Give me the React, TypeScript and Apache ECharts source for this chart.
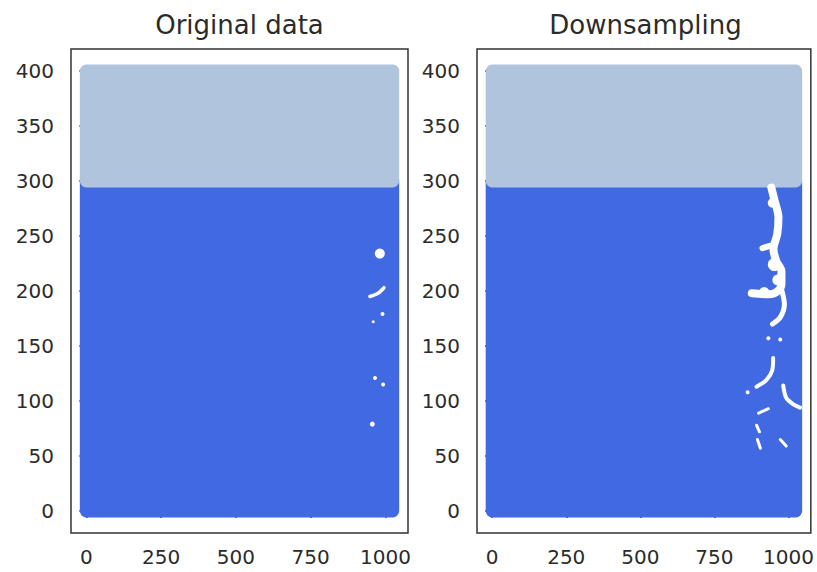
import React, { useEffect, useRef } from "react";
import * as echarts from "echarts";

// ---- data ----
const panelTitles = ["Original data", "Downsampling"];
const xTicks = [0, 250, 500, 750, 1000];
const yTicks = [0, 50, 100, 150, 200, 250, 300, 350, 400];
const xExtent = [0, 1024];
const lowBand = [0, 300]; // y < 300, royal blue
const highBand = [300, 400]; // y >= 300, light steel blue

// gaps inside the point cloud (left panel, original data): [x, y, size px]
const originalGapDots = [
  [981, 234, 10],
  [990, 179, 4],
  [959, 172, 3],
  [965, 121, 4],
  [992, 115, 4],
  [956, 79, 5],
];
const originalGapStroke = [
  [948, 195],
  [975, 198],
  [995, 203],
];

// gaps in the downsampled cloud (right panel)
const downGapA = [
  [942, 294], [952, 283], [966, 267], [962, 252], [949, 238], [959, 227],
  [976, 218], [976, 206], [959, 199], [932, 197], [876, 198],
];
const downGapB = [[949, 242], [912, 239]];
const downGapC = [[976, 202], [986, 188], [972, 176], [946, 170]];
const downGapE = [[948, 139], [945, 128], [925, 119], [892, 113]];
const downGapF = [[982, 114], [992, 103], [1016, 97], [1039, 94]];
const downGapH = [[932, 93], [899, 89]];
const downGapI = [[892, 78], [902, 72]];
const downGapJ = [[895, 65], [905, 57]];
const downGapK = [[972, 65], [992, 59]];
const downGapDots = [
  [932, 157, 4],
  [972, 156, 4],
  [862, 108, 4],
  [952, 224, 13],
  [964, 210, 11],
  [945, 280, 9],
  [918, 199, 10],
];

const bandColors = ["#4169E1", "#B0C4DE"];

export default function App() {
  const ref = useRef<HTMLDivElement>(null);
  useEffect(() => {
    document.body.style.margin = "0";
    if (!ref.current) return;
    const chart = echarts.init(ref.current, null, { renderer: "svg" });
    const font = "DejaVu Sans";
    const textColor = "#2b2b2b";
    const grids = [
      { left: 71, top: 49, width: 337, height: 484 },
      { left: 477, top: 49, width: 337, height: 484 },
    ];
    const bandsData = [
      [xExtent[0], xExtent[1], lowBand[0], lowBand[1], 0],
      [xExtent[0], xExtent[1], highBand[0], highBand[1], 1],
    ];
    const xSpan = xExtent[1] - xExtent[0];
    const ySpan = highBand[1] - lowBand[0];

    const series: any[] = [];
    [0, 1].forEach((g) => {
      series.push({
        type: "custom",
        xAxisIndex: g,
        yAxisIndex: g,
        data: bandsData,
        z: 2,
        clip: false,
        renderItem: (params: any, api: any) => {
          const x0 = api.value(0), x1 = api.value(1), y0 = api.value(2), y1 = api.value(3);
          const ci = api.value(4);
          const p0 = api.coord([x0, y1]);
          const p1 = api.coord([x1, y0]);
          const pad = 6.5;
          return {
            type: "rect",
            shape: {
              x: p0[0] - pad,
              y: p0[1] - pad,
              width: p1[0] - p0[0] + 2 * pad,
              height: p1[1] - p0[1] + 2 * pad,
              r: pad,
            },
            style: { fill: bandColors[ci] },
          };
        },
      });
    });

    const gapLine = (g: number, data: number[][], width: number) => ({
      type: "line",
      xAxisIndex: g,
      yAxisIndex: g,
      data,
      z: 3,
      showSymbol: false,
      symbol: "none",
      smooth: 0.3,
      silent: true,
      lineStyle: { color: "#ffffff", width, cap: "round", join: "round", opacity: 1 },
    });
    const gapDots = (g: number, data: number[][]) => ({
      type: "scatter",
      xAxisIndex: g,
      yAxisIndex: g,
      data,
      z: 3,
      silent: true,
      symbolSize: (v: number[]) => v[2],
      itemStyle: { color: "#ffffff", opacity: 1 },
    });

    series.push(gapDots(0, originalGapDots));
    series.push(gapLine(0, originalGapStroke, 3.5));
    series.push(gapLine(1, downGapA, 8));
    series.push(gapLine(1, downGapB, 6));
    series.push(gapLine(1, downGapC, 5));
    series.push(gapLine(1, downGapE, 4));
    series.push(gapLine(1, downGapF, 4));
    series.push(gapLine(1, downGapH, 3));
    series.push(gapLine(1, downGapI, 3));
    series.push(gapLine(1, downGapJ, 3));
    series.push(gapLine(1, downGapK, 3));
    series.push(gapDots(1, downGapDots));

    const axisCommon = {
      axisLine: { show: false },
      splitLine: { show: false },
      axisTick: { show: true, inside: false, length: 7, lineStyle: { color: "#333", width: 1.5 } },
    };
    const plain = (v: number) => String(v);

    chart.setOption({
      animation: false,
      backgroundColor: "#ffffff",
      title: panelTitles.map((t, i) => ({
        text: t,
        left: grids[i].left + grids[i].width / 2,
        top: 12,
        padding: 0,
        textAlign: "center",
        textStyle: { fontFamily: font, fontSize: 26, fontWeight: "normal", color: textColor },
      })),
      grid: grids.map((g) => ({
        ...g,
        show: true,
        borderColor: "#333",
        borderWidth: 1.5,
        backgroundColor: "#ffffff",
        containLabel: false,
      })),
      xAxis: [0, 1].map((i) => ({
        type: "value",
        gridIndex: i,
        min: xExtent[0] - 0.05 * xSpan,
        max: xExtent[1] + 0.05 * xSpan,
        ...axisCommon,
        axisTick: { ...axisCommon.axisTick, customValues: xTicks },
        axisLabel: {
          customValues: xTicks,
          formatter: plain,
          margin: 14,
          fontFamily: font,
          fontSize: 20,
          color: textColor,
        },
      })),
      yAxis: [0, 1].map((i) => ({
        type: "value",
        gridIndex: i,
        min: lowBand[0] - 0.05 * ySpan,
        max: highBand[1] + 0.05 * ySpan,
        ...axisCommon,
        axisTick: { ...axisCommon.axisTick, customValues: yTicks },
        axisLabel: {
          customValues: yTicks,
          formatter: plain,
          margin: 17,
          fontFamily: font,
          fontSize: 20,
          color: textColor,
        },
      })),
      series,
    });
    return () => chart.dispose();
  }, []);
  return <div ref={ref} style={{ width: 817, height: 572 }} />;
}
